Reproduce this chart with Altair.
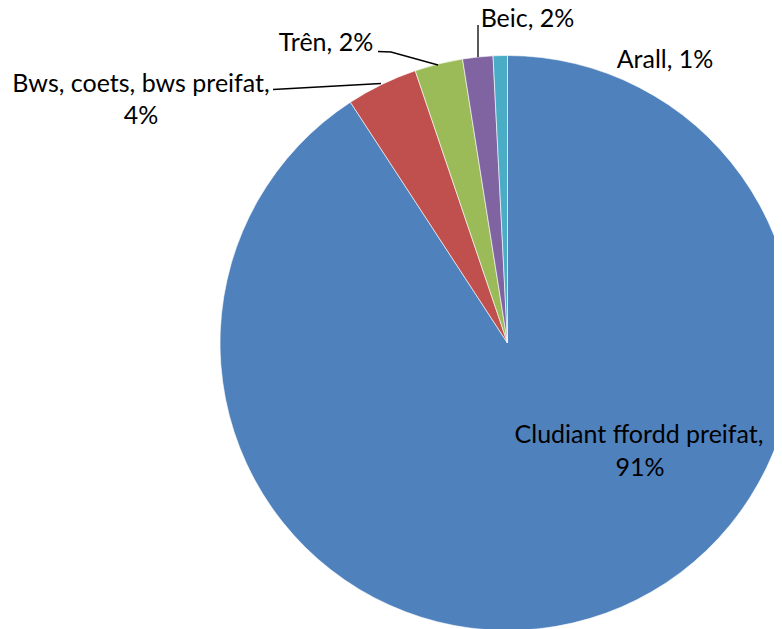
import altair as alt
import pandas as pd

# Slice data (clockwise from 12 o'clock)
categories = ["Cludiant ffordd preifat", "Bws, coets, bws preifat", "Trên", "Beic", "Arall"]
values = [90.8, 4.0, 2.7, 1.7, 0.8]
colors = ["#4F81BD", "#C0504D", "#9BBB59", "#8064A2", "#4BACC6"]

# Label text lines
label_lines = ["Bws, coets, bws preifat,", "4%", "Trên, 2%", "Beic, 2%", "Arall, 1%",
               "Cludiant ffordd preifat,", "91%"]
# Label layout (pixel positions inside the chart, alphabetic baseline)
label_x = [133, 133, 318, 519.5, 657, 631, 632]
label_y = [83.5, 115.5, 42.7, 19.2, 60.3, 434.7, 467.7]

# Leader lines (pixel layout)
leader_id = ["bws", "bws", "tren", "tren", "tren", "beic", "beic"]
leader_x = [265, 373, 370, 383, 430, 470, 470]
leader_y = [81.5, 75.5, 43.5, 44, 57, 17, 49]

CX, CY, R = 499.5, 335, 287.5
W, H = 766, 621

pie_df = pd.DataFrame({"cat": categories, "val": values, "idx": list(range(len(values)))})

pie = alt.Chart(pie_df).mark_arc(stroke="white", strokeWidth=0.6).encode(
    theta=alt.Theta("val:Q", stack=True),
    order=alt.Order("idx:Q"),
    color=alt.Color("cat:N", scale=alt.Scale(domain=categories, range=colors), legend=None),
    x=alt.value(CX),
    y=alt.value(CY),
    radius=alt.value(R),
)

lab_df = pd.DataFrame({"t": label_lines, "x": label_x, "y": label_y})
labels = alt.Chart(lab_df).mark_text(
    font="Lato", fontSize=25, color="black", align="center", baseline="alphabetic"
).encode(
    x=alt.X("x:Q", scale=None),
    y=alt.Y("y:Q", scale=None),
    text="t:N",
)

lead_df = pd.DataFrame({"id": leader_id, "x": leader_x, "y": leader_y,
                        "o": list(range(len(leader_x)))})
leaders = alt.Chart(lead_df).mark_line(color="black", strokeWidth=1.3).encode(
    x=alt.X("x:Q", scale=None),
    y=alt.Y("y:Q", scale=None),
    detail="id:N",
    order="o:Q",
)

chart = alt.layer(pie, leaders, labels).properties(
    width=W, height=H, padding=0, autosize=alt.AutoSizeParams(type="none")
).configure_view(strokeWidth=0)

chart.save("out.html", embed_options={"renderer": "svg", "actions": False})
